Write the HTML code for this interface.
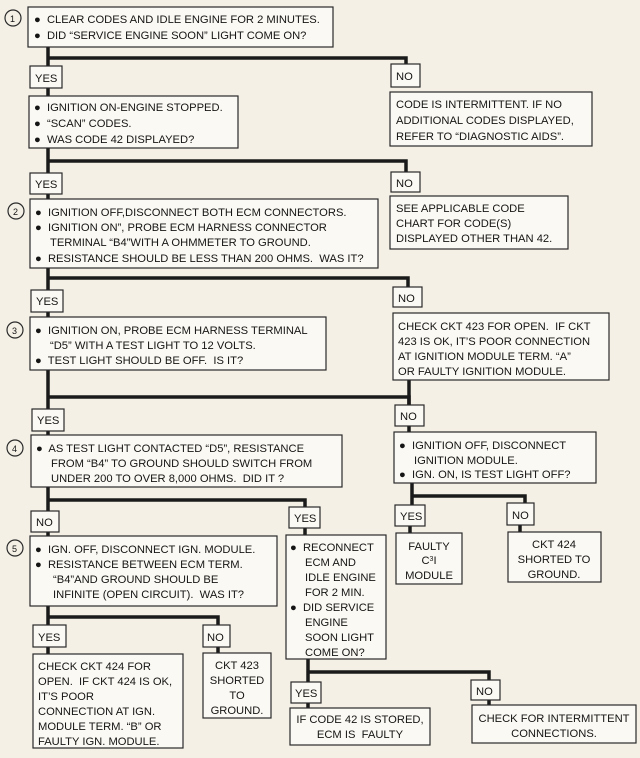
<!DOCTYPE html>
<html><head><meta charset="utf-8"><style>
html,body{margin:0;padding:0;background:#f4f0e6;}
svg{display:block}
text{font-family:"Liberation Sans",sans-serif;font-size:11.2px;fill:#151515}
.b{fill:#fbf9f3;stroke:#2a2a2a;stroke-width:1.2}
.l{stroke:#1a1a1a;stroke-width:3.5;fill:none}
.c{fill:none;stroke:#2a2a2a;stroke-width:1.2}
</style></head><body>
<svg width="640" height="758" viewBox="0 0 640 758">
<rect width="640" height="758" fill="#f4f0e6"/>
<!-- connectors -->
<path class="l" d="M48 47V96 M48 58H406V64"/>
<path class="l" d="M48 148V200 M48 161H406V172"/>
<path class="l" d="M48 268V317 M48 278H408V287"/>
<path class="l" d="M48 370V435 M48 397H409V405"/>
<path class="l" d="M48 487V536 M48 500H305V507"/>
<path class="l" d="M409 380V432"/>
<path class="l" d="M412 483V505 M412 496H525V503"/>
<path class="l" d="M305 528V535"/>
<path class="l" d="M48 606V654 M48 617H218V625 M218 647V653"/>
<path class="l" d="M308 659V708 M308 672H489V680 M489 700V705"/>
<path class="l" d="M410 526V533 M520 525V532"/>
<!-- circles -->
<circle class="c" cx="13" cy="18" r="8"/><text x="10" y="22" style="font-size:9px">1</text>
<circle class="c" cx="16" cy="211" r="8"/><text x="13" y="215" style="font-size:9px">2</text>
<circle class="c" cx="15" cy="330" r="8"/><text x="12" y="334" style="font-size:9px">3</text>
<circle class="c" cx="15" cy="448" r="8"/><text x="12" y="452" style="font-size:9px">4</text>
<circle class="c" cx="15" cy="548" r="8"/><text x="12" y="552" style="font-size:9px">5</text>
<!-- box1 -->
<rect class="b" x="28" y="7" width="305" height="40"/>
<text x="34" y="23">●&#160; CLEAR CODES AND IDLE ENGINE FOR 2 MINUTES.</text>
<text x="34" y="39">●&#160; DID “SERVICE ENGINE SOON” LIGHT COME ON?</text>
<rect class="b" x="30" y="66" width="32" height="22"/><text x="35" y="82">YES</text>
<rect class="b" x="391" y="64" width="29" height="23"/><text x="396" y="80">NO</text>
<rect class="b" x="390" y="92" width="202" height="54"/>
<text x="396" y="108">CODE IS INTERMITTENT. IF NO</text>
<text x="396" y="124">ADDITIONAL CODES DISPLAYED,</text>
<text x="396" y="140">REFER TO “DIAGNOSTIC AIDS”.</text>
<!-- box2 -->
<rect class="b" x="29" y="96" width="209" height="52"/>
<text x="34" y="111">●&#160; IGNITION ON-ENGINE STOPPED.</text>
<text x="34" y="127">●&#160; “SCAN” CODES.</text>
<text x="34" y="143">●&#160; WAS CODE 42 DISPLAYED?</text>
<rect class="b" x="30" y="173" width="32" height="21"/><text x="35" y="188">YES</text>
<rect class="b" x="391" y="172" width="29" height="20"/><text x="396" y="187">NO</text>
<rect class="b" x="390" y="196" width="178" height="53"/>
<text x="396" y="212">SEE APPLICABLE CODE</text>
<text x="396" y="227">CHART FOR CODE(S)</text>
<text x="396" y="242">DISPLAYED OTHER THAN 42.</text>
<!-- box3 -->
<rect class="b" x="30" y="199" width="348" height="69"/>
<text x="35" y="216">●&#160; IGNITION OFF,DISCONNECT BOTH ECM CONNECTORS.</text>
<text x="35" y="231">●&#160; IGNITION ON”, PROBE ECM HARNESS CONNECTOR</text>
<text x="50" y="246">TERMINAL “B4”WITH A OHMMETER TO GROUND.</text>
<text x="35" y="262">●&#160; RESISTANCE SHOULD BE LESS THAN 200 OHMS.&#160; WAS IT?</text>
<rect class="b" x="31" y="290" width="32" height="22"/><text x="36" y="305">YES</text>
<rect class="b" x="393" y="287" width="29" height="20"/><text x="398" y="302">NO</text>
<rect class="b" x="393" y="313" width="216" height="67"/>
<text x="398" y="330">CHECK CKT 423 FOR OPEN.&#160; IF CKT</text>
<text x="398" y="345">423 IS OK, IT’S POOR CONNECTION</text>
<text x="398" y="360">AT IGNITION MODULE TERM. “A”</text>
<text x="398" y="375">OR FAULTY IGNITION MODULE.</text>
<!-- box4 -->
<rect class="b" x="30" y="317" width="296" height="53"/>
<text x="35" y="334">●&#160; IGNITION ON, PROBE ECM HARNESS TERMINAL</text>
<text x="50" y="349">“D5” WITH A TEST LIGHT TO 12 VOLTS.</text>
<text x="35" y="364">●&#160; TEST LIGHT SHOULD BE OFF.&#160; IS IT?</text>
<rect class="b" x="32" y="409" width="32" height="22"/><text x="37" y="424">YES</text>
<rect class="b" x="395" y="405" width="29" height="21"/><text x="400" y="420">NO</text>
<rect class="b" x="394" y="432" width="202" height="51"/>
<text x="399" y="449">●&#160; IGNITION OFF, DISCONNECT</text>
<text x="414" y="464">IGNITION MODULE.</text>
<text x="399" y="478">●&#160; IGN. ON, IS TEST LIGHT OFF?</text>
<!-- box5 -->
<rect class="b" x="31" y="435" width="311" height="52"/>
<text x="36" y="452">●&#160; AS TEST LIGHT CONTACTED “D5”, RESISTANCE</text>
<text x="51" y="467">FROM “B4” TO GROUND SHOULD SWITCH FROM</text>
<text x="51" y="482">UNDER 200 TO OVER 8,000 OHMS.&#160; DID IT ?</text>
<rect class="b" x="31" y="511" width="28" height="21"/><text x="36" y="526">NO</text>
<rect class="b" x="289" y="507" width="31" height="21"/><text x="294" y="522">YES</text>
<rect class="b" x="395" y="505" width="30" height="21"/><text x="400" y="520">YES</text>
<rect class="b" x="507" y="503" width="27" height="22"/><text x="512" y="519">NO</text>
<rect class="b" x="396" y="533" width="66" height="51"/>
<text x="429" y="550" text-anchor="middle">FAULTY</text>
<text x="429" y="564" text-anchor="middle">C<tspan dy="-3" style="font-size:7px">3</tspan><tspan dy="3">I</tspan></text>
<text x="429" y="579" text-anchor="middle">MODULE</text>
<rect class="b" x="508" y="532" width="93" height="50"/>
<text x="554" y="548" text-anchor="middle">CKT 424</text>
<text x="554" y="563" text-anchor="middle">SHORTED TO</text>
<text x="554" y="578" text-anchor="middle">GROUND.</text>
<!-- box6 -->
<rect class="b" x="30" y="536" width="247" height="70"/>
<text x="35" y="553">●&#160; IGN. OFF, DISCONNECT IGN. MODULE.</text>
<text x="35" y="568">●&#160; RESISTANCE BETWEEN ECM TERM.</text>
<text x="53" y="583">“B4”AND GROUND SHOULD BE</text>
<text x="53" y="598">INFINITE (OPEN CIRCUIT).&#160; WAS IT?</text>
<!-- box7 -->
<rect class="b" x="286" y="535" width="100" height="124"/>
<text x="290" y="551">●&#160; RECONNECT</text>
<text x="305" y="566">ECM AND</text>
<text x="305" y="581">IDLE ENGINE</text>
<text x="305" y="596">FOR 2 MIN.</text>
<text x="290" y="611">●&#160; DID SERVICE</text>
<text x="305" y="626">ENGINE</text>
<text x="305" y="641">SOON LIGHT</text>
<text x="305" y="656">COME ON?</text>
<rect class="b" x="33" y="625" width="33" height="22"/><text x="38" y="641">YES</text>
<rect class="b" x="203" y="625" width="27" height="22"/><text x="207" y="641">NO</text>
<rect class="b" x="33" y="654" width="150" height="94"/>
<text x="38" y="670">CHECK CKT 424 FOR</text>
<text x="38" y="685">OPEN.&#160; IF CKT 424 IS OK,</text>
<text x="38" y="700">IT’S POOR</text>
<text x="38" y="715">CONNECTION AT IGN.</text>
<text x="38" y="730">MODULE TERM. “B” OR</text>
<text x="38" y="745">FAULTY IGN. MODULE.</text>
<rect class="b" x="203" y="653" width="68" height="65"/>
<text x="237" y="669" text-anchor="middle">CKT 423</text>
<text x="237" y="684" text-anchor="middle">SHORTED</text>
<text x="237" y="699" text-anchor="middle">TO</text>
<text x="237" y="714" text-anchor="middle">GROUND.</text>
<rect class="b" x="291" y="682" width="30" height="21"/><text x="295" y="697">YES</text>
<rect class="b" x="471" y="680" width="29" height="20"/><text x="476" y="695">NO</text>
<rect class="b" x="290" y="708" width="140" height="37"/>
<text x="360" y="723" text-anchor="middle">IF CODE 42 IS STORED,</text>
<text x="360" y="738" text-anchor="middle">ECM IS&#160; FAULTY</text>
<rect class="b" x="472" y="705" width="164" height="38"/>
<text x="554" y="722" text-anchor="middle">CHECK FOR INTERMITTENT</text>
<text x="554" y="737" text-anchor="middle">CONNECTIONS.</text>
</svg>
</body></html>
